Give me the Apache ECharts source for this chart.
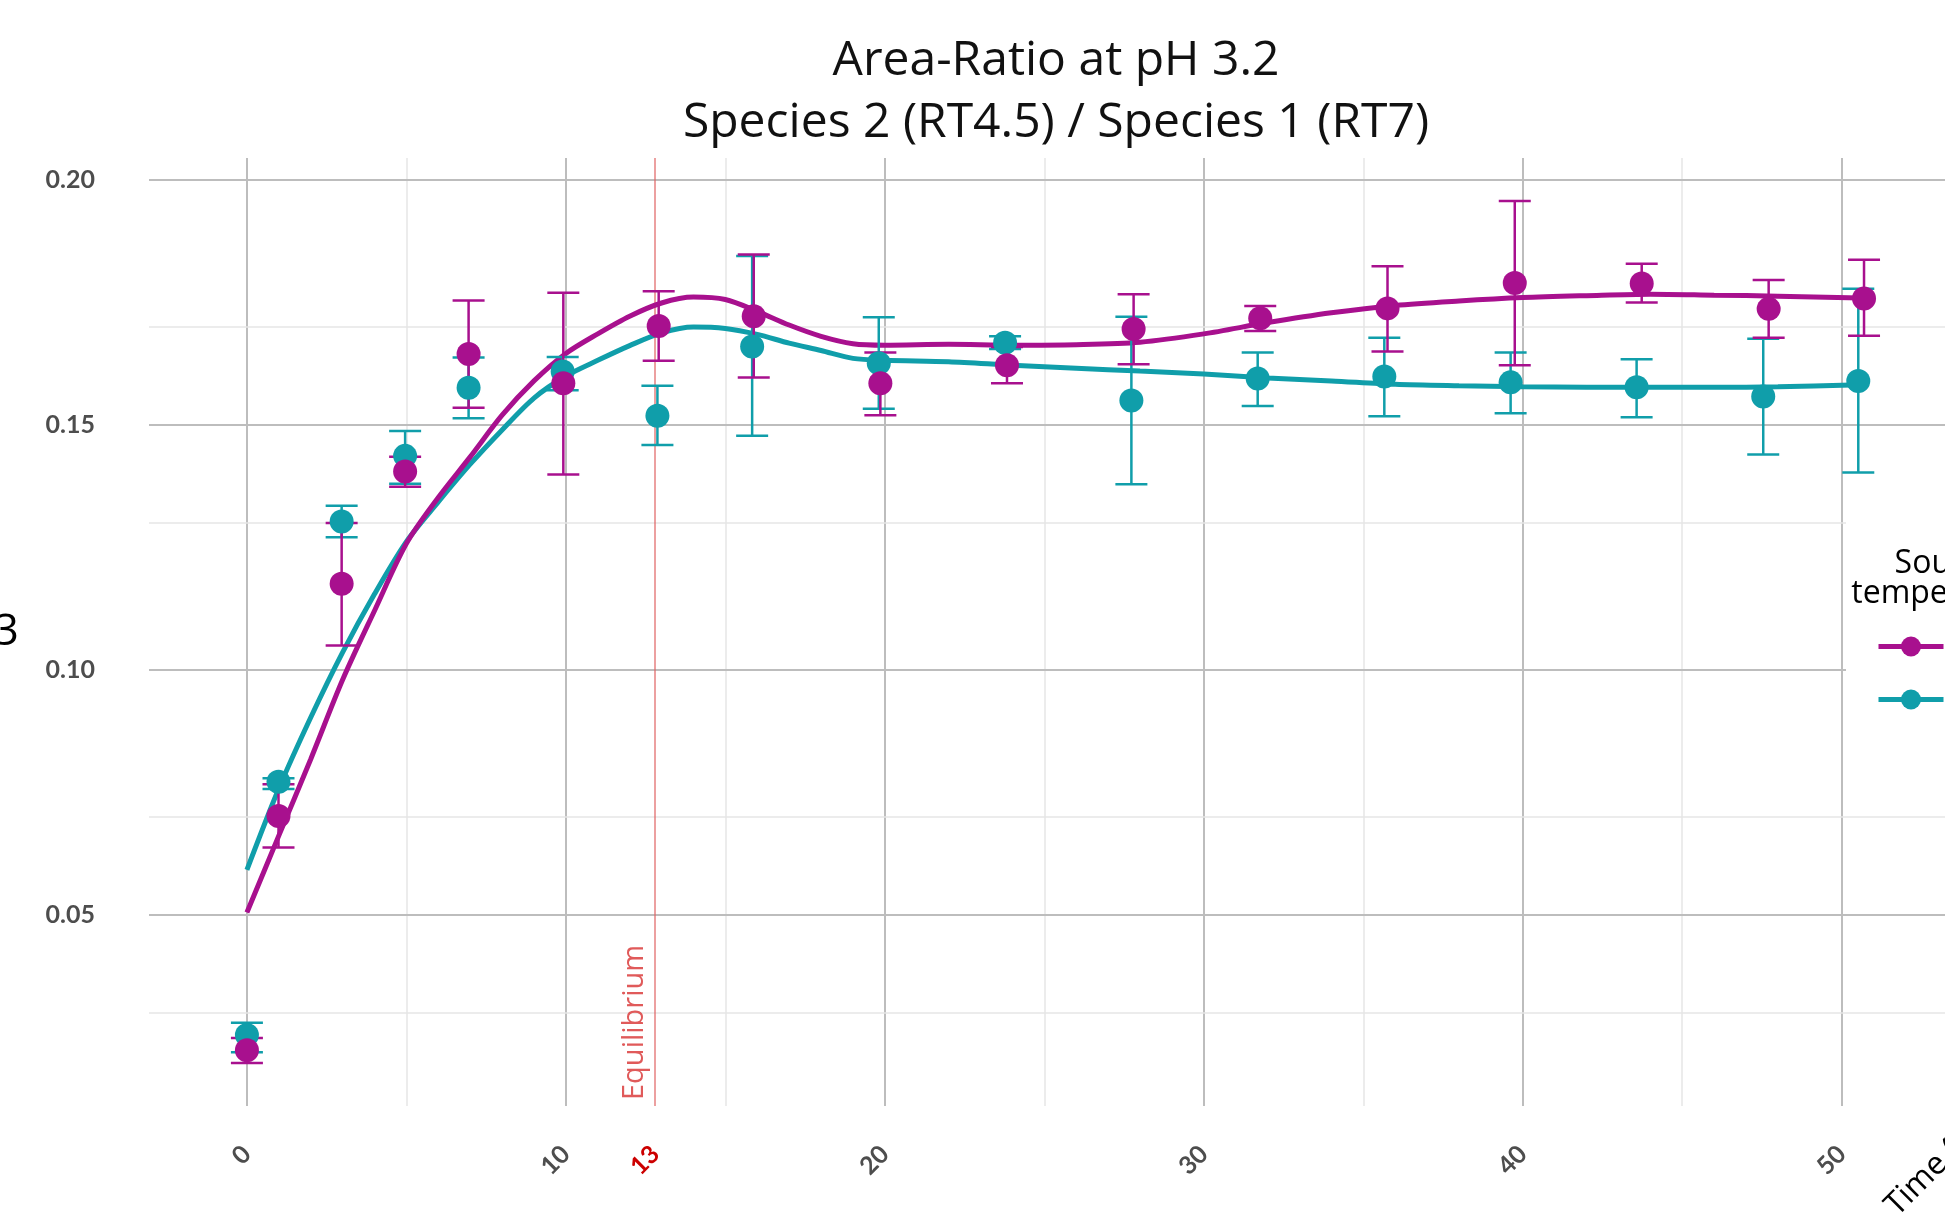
<!DOCTYPE html>
<html>
<head>
<meta charset="utf-8">
<title>Area-Ratio at pH 3.2</title>
<script src="https://cdn.jsdelivr.net/npm/echarts@6.0.0/dist/echarts.min.js"></script>
<style>
  html, body { margin: 0; padding: 0; background: #fff; overflow: hidden; }
  #chart { width: 2150px; height: 1215px; }
</style>
</head>
<body>
<div id="chart"></div>
<script>
// measured points, series A (purple) and B (teal)
var timeA  = [0, 0.99, 2.97, 4.96, 6.95, 9.92, 12.91, 15.89, 19.86, 23.83, 27.8, 31.77, 35.76, 39.75, 43.73, 47.71, 50.7];
var ratioA = [0.0224, 0.0702, 0.1176, 0.1405, 0.1645, 0.1585, 0.1702, 0.1722, 0.1585, 0.1622, 0.1696, 0.1718, 0.1738, 0.1790, 0.1789, 0.1737, 0.1758];
var lowA   = [0.0198, 0.0638, 0.1050, 0.1374, 0.1535, 0.1399, 0.1631, 0.1597, 0.1520, 0.1585, 0.1624, 0.1692, 0.1650, 0.1622, 0.1750, 0.1678, 0.1682];
var highA  = [0.0249, 0.0767, 0.1300, 0.1435, 0.1754, 0.1770, 0.1773, 0.1848, 0.1648, 0.1659, 0.1767, 0.1743, 0.1824, 0.1957, 0.1829, 0.1796, 0.1837];

var timeB  = [0, 0.99, 2.97, 4.96, 6.95, 9.90, 12.87, 15.84, 19.81, 23.77, 27.73, 31.69, 35.66, 39.62, 43.57, 47.54, 50.52];
var ratioB = [0.0255, 0.0772, 0.1303, 0.1437, 0.1576, 0.1609, 0.1519, 0.1660, 0.1626, 0.1668, 0.1550, 0.1595, 0.1599, 0.1587, 0.1577, 0.1558, 0.1590];
var lowB   = [0.0220, 0.0757, 0.1271, 0.1380, 0.1514, 0.1571, 0.1459, 0.1478, 0.1533, 0.1655, 0.1379, 0.1539, 0.1518, 0.1524, 0.1516, 0.1440, 0.1403];
var highB  = [0.0280, 0.0779, 0.1335, 0.1488, 0.1638, 0.1639, 0.1580, 0.1845, 0.1720, 0.1681, 0.1721, 0.1648, 0.1678, 0.1648, 0.1634, 0.1676, 0.1778];

// smoothed fit
var fitTime = [0, 1, 2, 3, 4, 5, 6, 7, 8, 9, 10, 11, 12, 13, 14, 15, 16, 17, 18, 19, 20, 22, 24, 26, 28, 30, 32, 34, 36, 38, 40, 42, 44, 46, 48, 50.6];
var fitA = [0.0505, 0.0662, 0.0818, 0.0980, 0.1121, 0.1258, 0.1352, 0.1435, 0.1520, 0.1590, 0.1646, 0.1686, 0.1722, 0.1749, 0.1761, 0.1756, 0.1732, 0.1704, 0.1681, 0.1666, 0.1663, 0.1665, 0.1663, 0.1664, 0.1669, 0.1686, 0.1709, 0.1729, 0.1744, 0.1753, 0.1760, 0.1764, 0.1767, 0.1765, 0.1763, 0.1759];
var fitB = [0.0592, 0.0758, 0.0903, 0.1036, 0.1155, 0.1262, 0.1343, 0.1420, 0.1490, 0.1555, 0.1600, 0.1632, 0.1662, 0.1688, 0.1700, 0.1697, 0.1685, 0.1667, 0.1652, 0.1636, 0.1632, 0.1629, 0.1622, 0.1616, 0.1610, 0.1604, 0.1596, 0.1590, 0.1583, 0.1580, 0.1578, 0.1577, 0.1577, 0.1577, 0.1578, 0.1582];

var nameA = 'Low';
var nameB = 'High';
var equilibriumTime = 12.8;

var xLabels = [0, 10, equilibriumTime, 20, 30, 40, 50];
var yLabels = [0.05, 0.10, 0.15, 0.20];
var xMajor = [0, 10, 20, 30, 40, 50];
var xMinor = [5, 15, 25, 35, 45, 55];
var yMajor = [0.05, 0.10, 0.15, 0.20];
var yMinor = [0.025, 0.075, 0.125, 0.175];

var purple = '#A8108E';
var teal = '#109EAA';

function errorBars(color) {
  return function (params, api) {
    var x = api.value(0);
    var top = api.coord([x, api.value(2)]);
    var bot = api.coord([x, api.value(1)]);
    var half = 16;
    var st = { stroke: color, lineWidth: 2.5 };
    return {
      type: 'group',
      children: [
        { type: 'line', shape: { x1: top[0], y1: top[1], x2: bot[0], y2: bot[1] }, style: st },
        { type: 'line', shape: { x1: top[0] - half, y1: top[1], x2: top[0] + half, y2: top[1] }, style: st },
        { type: 'line', shape: { x1: bot[0] - half, y1: bot[1], x2: bot[0] + half, y2: bot[1] }, style: st }
      ]
    };
  };
}

function zip2(xs, ys) {
  return xs.map(function (x, i) { return [x, ys[i]]; });
}
function zip3(xs, lo, hi) {
  return xs.map(function (x, i) { return [x, lo[i], hi[i]]; });
}

var gridLines = [];
xMajor.forEach(function (v) { gridLines.push({ xAxis: v, lineStyle: { color: '#BDBDBD', width: 2 } }); });
xMinor.forEach(function (v) { gridLines.push({ xAxis: v, lineStyle: { color: '#E6E6E6', width: 1.5 } }); });
yMajor.forEach(function (v) { gridLines.push({ yAxis: v, lineStyle: { color: '#BDBDBD', width: 2 } }); });
yMinor.forEach(function (v) { gridLines.push({ yAxis: v, lineStyle: { color: '#E6E6E6', width: 1.5 } }); });

var tickFont = { fontFamily: 'Lato', fontWeight: 'bold', fontSize: 25, color: '#4D4D4D' };

var chart = echarts.init(document.getElementById('chart'));
var option = {
  animation: false,
  backgroundColor: '#fff',
  grid: { left: 149, top: 158, width: 1967, height: 948, containLabel: false, outerBoundsMode: 'none' },
  xAxis: {
    type: 'value',
    min: -3.07,
    max: 58.6,
    axisLine: { show: false },
    axisTick: { show: false },
    splitLine: { show: false },
    axisLabel: Object.assign({
      customValues: xLabels,
      rotate: 45,
      margin: 44,
      formatter: function (v) {
        return v === equilibriumTime ? '{eq|' + Math.round(v) + '}' : String(v);
      },
      rich: { eq: { color: '#CC0000', fontFamily: 'Lato', fontWeight: 'bold', fontSize: 25 } }
    }, tickFont)
  },
  yAxis: {
    type: 'value',
    min: 0.01102,
    max: 0.20449,
    name: '3',
    nameLocation: 'middle',
    nameRotate: 0,
    nameGap: 130,
    nameTextStyle: { fontFamily: 'Open Sans', fontSize: 44, color: '#000' },
    axisLine: { show: false },
    axisTick: { show: false },
    splitLine: { show: false },
    axisLabel: Object.assign({
      customValues: yLabels,
      margin: 54,
      formatter: function (v) { return v.toFixed(2); }
    }, tickFont)
  },
  legend: {
    orient: 'vertical',
    left: 1876,
    top: 634,
    padding: 0,
    itemWidth: 65,
    itemHeight: 25,
    itemGap: 28,
    selectedMode: false,
    z: 5,
    lineStyle: { width: 5 },
    textStyle: { fontFamily: 'Open Sans', fontSize: 24, lineHeight: 25, color: '#000' },
    data: [nameA, nameB]
  },
  graphic: [
    { type: 'rect', z: 3, shape: { x: 1846, y: 505, width: 320, height: 250 }, style: { fill: '#fff' } },
    {
      type: 'text', z: 6, x: 1056, y: 30,
      style: {
        text: 'Area-Ratio at pH 3.2\nSpecies 2 (RT4.5) / Species 1 (RT7)',
        fontFamily: 'Open Sans', fontSize: 48, lineHeight: 62,
        textAlign: 'center', textVerticalAlign: 'top', fill: '#111'
      }
    },
    {
      type: 'text', z: 6, x: 1946, y: 549,
      style: {
        text: 'Source\ntemperature',
        fontFamily: 'Open Sans', fontSize: 32, lineHeight: 30,
        textAlign: 'center', textVerticalAlign: 'top', fill: '#000'
      }
    },
    {
      type: 'text', z: 6, x: 1902, y: 1222, rotation: Math.PI / 4,
      style: {
        text: 'Time (h)',
        fontFamily: 'Open Sans', fontSize: 32,
        textAlign: 'left', textVerticalAlign: 'bottom', fill: '#000'
      }
    }
  ],
  series: [
    {
      name: 'grid',
      type: 'line',
      data: [],
      silent: true,
      markLine: { silent: true, z: 0, symbol: ['none', 'none'], label: { show: false }, lineStyle: { type: 'solid' }, data: gridLines }
    },
    {
      name: 'equilibrium',
      type: 'line',
      data: [],
      silent: true,
      markLine: {
        silent: true,
        z: 1,
        symbol: ['none', 'none'],
        lineStyle: { type: 'solid', color: 'rgba(224,96,96,0.6)', width: 2 },
        label: {
          show: true,
          position: 'insideStartTop',
          formatter: 'Equilibrium',
          distance: 6,
          color: '#E05A5A',
          fontFamily: 'Open Sans',
          fontSize: 29
        },
        data: [{ xAxis: equilibriumTime }]
      }
    },
    {
      name: nameB, type: 'line', z: 2, smooth: 0.3, showSymbol: false, symbol: 'circle',
      color: teal, lineStyle: { width: 5, color: teal }, itemStyle: { color: teal },
      data: zip2(fitTime, fitB)
    },
    {
      name: nameA, type: 'line', z: 2, smooth: 0.3, showSymbol: false, symbol: 'circle',
      color: purple, lineStyle: { width: 5, color: purple }, itemStyle: { color: purple },
      data: zip2(fitTime, fitA)
    },
    {
      name: nameB, type: 'custom', z: 3, renderItem: errorBars(teal),
      encode: { x: 0, y: [1, 2] }, data: zip3(timeB, lowB, highB)
    },
    {
      name: nameA, type: 'custom', z: 3, renderItem: errorBars(purple),
      encode: { x: 0, y: [1, 2] }, data: zip3(timeA, lowA, highA)
    },
    {
      name: nameB, type: 'scatter', z: 4, symbolSize: 24, itemStyle: { color: teal, opacity: 1 },
      data: zip2(timeB, ratioB)
    },
    {
      name: nameA, type: 'scatter', z: 4, symbolSize: 24, itemStyle: { color: purple, opacity: 1 },
      data: zip2(timeA, ratioA)
    }
  ]
};
chart.setOption(option);
</script>
</body>
</html>
